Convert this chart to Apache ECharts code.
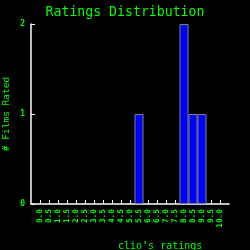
<!DOCTYPE html>
<html><head><meta charset="utf-8">
<script src="https://cdn.jsdelivr.net/npm/echarts@6/dist/echarts.min.js"></script>
<style>html,body{margin:0;padding:0;background:#000;}#c{width:250px;height:250px;}</style>
</head><body><div id="c"></div>
<script>
const categories = ['0.0','0.5','1.0','1.5','2.0','2.5','3.0','3.5','4.0','4.5','5.0','5.5','6.0','6.5','7.0','7.5','8.0','8.5','9.0','9.5','10.0'];
const counts = [0,0,0,0,0,0,0,0,0,0,0,1,0,0,0,0,2,1,1,0,0];
const yTicks = [0,1,2];
const titleText = 'Ratings Distribution';
const xName = "clio’s ratings";
const yName = '# Films Rated';

const FONT = 'DejaVu Sans Mono';
const GREEN = '#00ff00';
const xVals = categories.map(Number);
const barData = counts.map((v, i) => [xVals[i], v]).filter(d => d[1] > 0);

const chart = echarts.init(document.getElementById('c'), null, {renderer: 'canvas'});
chart.setOption({
  backgroundColor: '#000',
  animation: false,
  title: [
    {text: titleText, left: 'center', top: 1, textStyle: {color: GREEN, fontFamily: FONT, fontSize: 13.2, fontWeight: 'normal'}},
    {text: xName, left: 113, top: 236, textStyle: {color: GREEN, fontFamily: FONT, fontSize: 10, fontWeight: 'normal'}}
  ],
  grid: {left: 31, top: 24, right: 21, bottom: 46, containLabel: false, outerBoundsMode: 'none'},
  xAxis: {
    type: 'value', min: -0.5, max: 10.5,
    axisLine: {onZero: false, lineStyle: {color: '#fff', width: 1.5}},
    axisTick: {inside: true, length: 4, lineStyle: {color: '#fff'}, customValues: xVals},
    axisLabel: {color: GREEN, fontFamily: FONT, fontSize: 7.8, fontWeight: 'bold', rotate: 90, margin: 5,
      customValues: xVals, formatter: (v) => categories[xVals.indexOf(v)] ?? v.toFixed(1)},
    splitLine: {show: false}
  },
  yAxis: {
    type: 'value', min: yTicks[0], max: yTicks[yTicks.length - 1], interval: 1,
    name: yName, nameLocation: 'middle', nameGap: 19, nameMoveOverlap: false,
    nameTextStyle: {color: GREEN, fontFamily: FONT, fontSize: 9.5},
    axisLine: {show: true, onZero: false, lineStyle: {color: '#fff', width: 1.5}},
    axisTick: {show: true, inside: true, length: 4, lineStyle: {color: '#fff'}},
    axisLabel: {color: GREEN, fontFamily: FONT, fontSize: 8, fontWeight: 'bold', margin: 6},
    splitLine: {show: false}
  },
  series: [{
    type: 'bar', data: barData, barWidth: 9,
    itemStyle: {color: '#0000ff', borderColor: '#808080', borderWidth: 1}
  }]
});
</script></body></html>
